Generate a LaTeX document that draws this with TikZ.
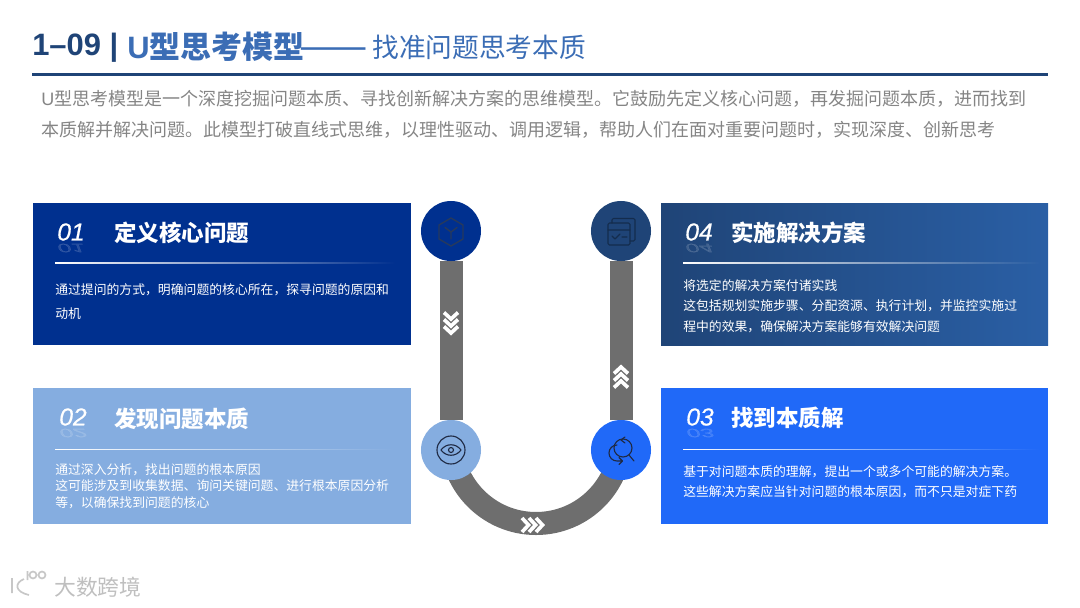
\documentclass[tikz,border=0pt]{standalone}
\usepackage{fontspec}
\usepackage{tikz}
\usetikzlibrary{positioning, fadings, backgrounds}
\setmainfont{Noto Sans CJK SC}
\newfontfamily\latinfont{Liberation Sans}
\newfontfamily\numfont[FakeBold=0.5]{Liberation Sans Italic}
\definecolor{navy}{HTML}{00308F}
\definecolor{slateblue}{HTML}{1F4477}
\definecolor{steelblue}{HTML}{2A5FA5}
\definecolor{paleblue}{HTML}{85ADE0}
\definecolor{brightblue}{HTML}{2069F8}
\definecolor{trackgray}{HTML}{6E6E6E}
\definecolor{headblue}{HTML}{3B6DB5}
\definecolor{icondark}{HTML}{1F2A44}

\begin{document}
\begin{tikzpicture}[
        x=0.025cm, y=-0.025cm,
        card/.style={
          rectangle,
          anchor=north west,
          minimum width=9.45cm,
          minimum height=3.55cm,
          inner sep=0pt,
          outer sep=0pt
        },
        badge/.style={
          circle,
          minimum size=1.5cm,
          inner sep=0pt,
          outer sep=0pt
        },
        track/.style={
          draw=trackgray,
          line width=0.575cm
        },
        numtext/.style={
          text=white,
          inner sep=0pt,
          font=\numfont\fontsize{17.5}{17.5}\selectfont
        },
        numshadow/.style={
          numtext,
          opacity=0.15,
          yscale=-0.5,
          transform shape
        },
        headtext/.style={
          anchor=west,
          text=white,
          inner sep=0pt,
          font=\fontsize{16}{16}\selectfont\bfseries
        },
        bodytext/.style={
          anchor=north west,
          align=left,
          text=white,
          inner sep=0pt,
          font=\fontsize{9.13}{#1}\selectfont
        },
        divider/.style={
          fill=white,
          path fading=east
        },
        icon/.style={
          draw=icondark,
          line width=0.8pt,
          line cap=round,
          line join=round
        },
        chevron/.style={
          draw=white,
          line width=2.6pt,
          line join=miter
        }
      ]
      \useasboundingbox (0,0) rectangle (1080,607);

      % Heading
      \node [anchor=west, inner sep=0pt, text=slateblue, font=\latinfont\fontsize{22}{22}\selectfont\bfseries] (code) at (32,48) {1–09 |};
      \node [anchor=west, inner sep=0pt, text=headblue, font=\fontsize{22}{22}\selectfont\bfseries] (head) at (127,47) {{\latinfont U}型思考模型};
      \node [anchor=west, inner sep=0pt, text=headblue, font=\fontsize{29}{29}\selectfont] (dash) at (299,54) {——};
      \node [anchor=west, inner sep=0pt, text=headblue, font=\fontsize{19}{19}\selectfont] (subhead) at (372,47) {找准问题思考本质};
      \draw [slateblue, line width=0.075cm] (32,74) -- (1048,74);
      \node [anchor=north west, align=left, inner sep=0pt, text=black!48, font=\fontsize{12.8}{22}\selectfont] (intro) at (41,90) {{\latinfont U}型思考模型是一个深度挖掘问题本质、寻找创新解决方案的思维模型。它鼓励先定义核心问题，再发掘问题本质，进而找到\\本质解并解决问题。此模型打破直线式思维，以理性驱动、调用逻辑，帮助人们在面对重要问题时，实现深度、创新思考};

      % Cards
      \node [card, fill=navy] (card1) at (33,203) {};
      \node [card, fill=paleblue, minimum height=3.4cm] (card2) at (33,388) {};
      \node [card, fill=brightblue, minimum width=9.675cm, minimum height=3.4cm] (card3) at (661,388) {};
      \node [card, left color=slateblue, right color=steelblue, minimum width=9.675cm] (card4) at (661,203) {};

      % Badges
      \node [badge, fill=navy] (c1) at (451,231) {};
      \node [badge, fill=paleblue] (c2) at (451,450) {};
      \node [badge, fill=brightblue] (c3) at (621,450) {};
      \node [badge, fill=slateblue] (c4) at (621,231) {};

      % Track
      \begin{pgfonlayer}{background}
        \draw [track] (c1) -- (c2);
        \draw [track] (c2.center) -- (451,438.5) arc[start angle=180, end angle=0, radius=85] -- (c3.center);
        \draw [track] (c3) -- (c4);
      \end{pgfonlayer}

      % Direction marks
      \foreach \y in {312.5,319.5,326.5}
        \draw [chevron] (444,\y) -- (451,\y+6.5) -- (458,\y);
      \foreach \y in {387.5,380.5,373.5}
        \draw [chevron] (614,\y) -- (621,\y-6.5) -- (628,\y);
      \foreach \x in {522,529,536}
        \draw [chevron] (\x,518) -- (\x+6.5,525) -- (\x,532);

      % Card 1
      \node [numtext] (num1) at (71,232) {01};
      \node [numshadow] (mirror1) at (71,248) {01};
      \node [headtext] (title1) at (114,233) {定义核心问题};
      \fill [divider] (55,262.4) rectangle (395,264);
      \node [bodytext=17.1] (body1) at (55,283) {通过提问的方式，明确问题的核心所在，探寻问题的原因和\\动机};

      % Card 2
      \node [numtext] (num2) at (73,417) {02};
      \node [numshadow] (mirror2) at (73,433) {02};
      \node [headtext] (title2) at (114,419) {发现问题本质};
      \fill [divider] (55,448.5) rectangle (395,450);
      \node [bodytext=11.6] (body2) at (55,463.5) {通过深入分析，找出问题的根本原因\\这可能涉及到收集数据、询问关键问题、进行根本原因分析\\等，以确保找到问题的核心};

      % Card 3
      \node [numtext] (num3) at (700,417) {03};
      \node [numshadow] (mirror3) at (700,433) {03};
      \node [headtext] (title3) at (731,418) {找到本质解};
      \fill [divider] (683,448.5) rectangle (1040,450);
      \node [bodytext=14.4] (body3) at (683,465.5) {基于对问题本质的理解，提出一个或多个可能的解决方案。\\这些解决方案应当针对问题的根本原因，而不只是对症下药};

      % Card 4
      \node [numtext] (num4) at (699,232) {04};
      \node [numshadow] (mirror4) at (699,248) {04};
      \node [headtext] (title4) at (731,233) {实施解决方案};
      \fill [divider] (683,262.4) rectangle (1040,264);
      \node [bodytext=14.6] (body4) at (683,279) {将选定的解决方案付诸实践\\这包括规划实施步骤、分配资源、执行计划，并监控实施过\\程中的效果，确保解决方案能够有效解决问题};

      % Icons
      \draw [icon, draw=black!55!navy!85!white, line width=1pt] (451,218) -- (463,225) -- (463,239) -- (451,246) -- (439,239) -- (439,225) -- cycle;
      \draw [icon, draw=black!55!navy!85!white, line width=1pt] (451,232) -- (451,239) (451,232) -- (445,227.5) (451,232) -- (457,227.5);
      \draw [icon, draw=black!35!slateblue, rounded corners=1pt] (608,223) rectangle (630,245);
      \draw [icon, draw=black!35!slateblue, rounded corners=1pt] (612,223) -- (612,218.5) -- (635,218.5) -- (635,241) -- (630,241);
      \draw [icon, draw=black!35!slateblue] (608,230) -- (630,230) (612,236) -- (615,239) -- (620,234) (622,237) -- (627,237);
      \draw [icon] (451,450) circle (14);
      \draw [icon] (441,450) .. controls (446,443) and (456,443) .. (461,450) .. controls (456,457) and (446,457) .. (441,450);
      \draw [icon] (451,450) circle (2.5);
      \draw [icon] (623,448) circle (9);
      \draw [icon] (629,455) -- (634,461);
      \draw [icon] (617,445) arc[start angle=270, end angle=90, radius=8] -- (622,461) (619,457.5) -- (622.5,461) -- (619,464.5);
      \draw [icon] (625,437) -- (621,440) -- (625,443);

      % Watermark
      \node [anchor=west, inner sep=0pt, text=black!25, font=\fontsize{15.5}{15.5}\selectfont] (mark) at (54,587) {大数跨境};
      \draw [black!22, line width=1.2pt] (33,575) circle (3.5) (42,575) circle (3.5) (27.5,571) -- (27.5,580);
      \draw [black!22, line width=1.2pt] (12,578) -- (12,593) (24,579) .. controls (14,583) and (15,592) .. (29,595);
    \end{tikzpicture}
\end{document}
